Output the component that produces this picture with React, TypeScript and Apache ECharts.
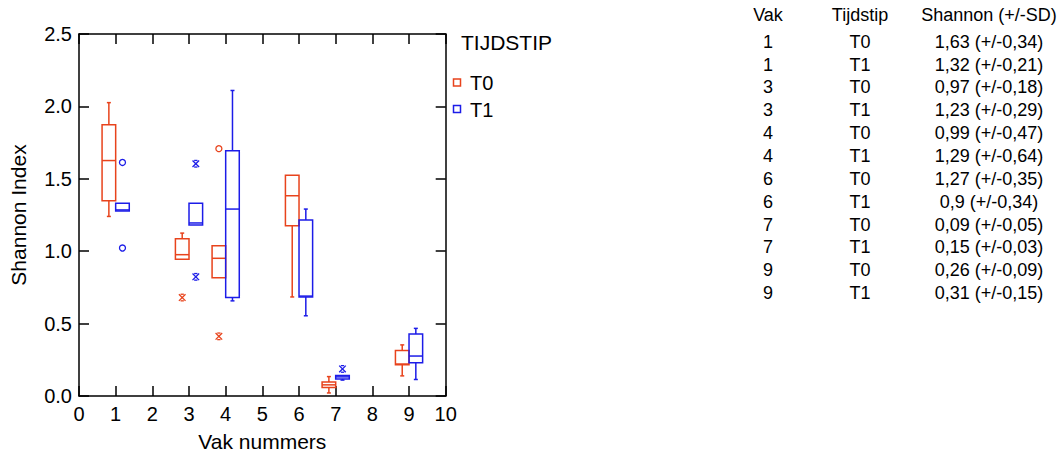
import React, { useEffect, useRef } from "react";
import * as echarts from "echarts";

// ---------- data ----------
const vakken = [1, 3, 4, 6, 7, 9];

const t0Low = [1.24, 0.945, 0.817, 0.684, 0.021, 0.139];
const t0Q1 = [1.348, 0.945, 0.817, 1.175, 0.059, 0.216];
const t0Med = [1.626, 0.976, 0.951, 1.383, 0.077, 0.221];
const t0Q3 = [1.873, 1.086, 1.038, 1.524, 0.096, 0.315];
const t0High = [2.026, 1.125, 1.038, 1.524, 0.134, 0.353];

const t1Low = [1.277, 1.181, 0.657, 0.554, 0.11, 0.114];
const t1Q1 = [1.277, 1.181, 0.68, 0.684, 0.118, 0.23];
const t1Med = [1.285, 1.195, 1.291, 0.69, 0.132, 0.276];
const t1Q3 = [1.332, 1.332, 1.693, 1.216, 0.141, 0.428];
const t1High = [1.332, 1.332, 2.11, 1.291, 0.141, 0.467];

const t0OutVak = [3, 4, 4];
const t0OutVal = [0.68, 1.708, 0.412];
const t0OutShape = ["star", "circle", "star"];

const t1OutVak = [1, 1, 3, 3, 7];
const t1OutVal = [1.613, 1.022, 1.604, 0.823, 0.187];
const t1OutShape = ["circle", "circle", "star", "star", "star"];

const xTicks = [0, 10, 1];
const yTicks = [0, 2.5, 0.5];

const tableHeader = ["Vak", "Tijdstip", "Shannon (+/-SD)"];
const tableVak = ["1", "1", "3", "3", "4", "4", "6", "6", "7", "7", "9", "9"];
const tableTijd = ["T0", "T1", "T0", "T1", "T0", "T1", "T0", "T1", "T0", "T1", "T0", "T1"];
const tableShannon = [
  "1,63 (+/-0,34)",
  "1,32 (+/-0,21)",
  "0,97 (+/-0,18)",
  "1,23 (+/-0,29)",
  "0,99 (+/-0,47)",
  "1,29 (+/-0,64)",
  "1,27 (+/-0,35)",
  "0,9 (+/-0,34)",
  "0,09 (+/-0,05)",
  "0,15 (+/-0,03)",
  "0,26 (+/-0,09)",
  "0,31 (+/-0,15)",
];

const legendTitle = "TIJDSTIP";
const groupNames = ["T0", "T1"];

// ---------- styling ----------
const RED = "#e8431c";
const BLUE = "#1c1ce8";
const FONT = "'Liberation Sans', Arial, Helvetica, sans-serif";
const LW = 1.5;

function boxRenderer(offset: number, color: string) {
  return (params: any, api: any) => {
    const vak = api.value(0);
    const cx = api.coord([vak, 0])[0] + offset;
    const yLow = api.coord([vak, api.value(1)])[1];
    const yQ1 = api.coord([vak, api.value(2)])[1];
    const yMed = api.coord([vak, api.value(3)])[1];
    const yQ3 = api.coord([vak, api.value(4)])[1];
    const yHigh = api.coord([vak, api.value(5)])[1];
    const hw = 6.8;
    const cap = 2;
    const st = { stroke: color, lineWidth: LW, fill: "none" };
    const children: any[] = [
      { type: "rect", shape: { x: cx - hw, y: yQ3, width: hw * 2, height: Math.max(yQ1 - yQ3, 1) }, style: st },
      { type: "line", shape: { x1: cx - hw, y1: yMed, x2: cx + hw, y2: yMed }, style: st },
    ];
    if (yHigh < yQ3 - 0.5) {
      children.push({ type: "line", shape: { x1: cx, y1: yQ3, x2: cx, y2: yHigh }, style: st });
      children.push({ type: "line", shape: { x1: cx - cap, y1: yHigh, x2: cx + cap, y2: yHigh }, style: st });
    }
    if (yLow > yQ1 + 0.5) {
      children.push({ type: "line", shape: { x1: cx, y1: yQ1, x2: cx, y2: yLow }, style: st });
      children.push({ type: "line", shape: { x1: cx - cap, y1: yLow, x2: cx + cap, y2: yLow }, style: st });
    }
    return { type: "group", children };
  };
}

function outlierRenderer(offset: number, color: string, shapes: string[]) {
  return (params: any, api: any) => {
    const p = api.coord([api.value(0), api.value(1)]);
    const cx = p[0] + offset;
    const cy = p[1];
    const shape = shapes[params.dataIndex];
    const st = { stroke: color, lineWidth: 1.3, fill: "none" };
    if (shape === "circle") {
      return { type: "circle", shape: { cx, cy, r: 3 }, style: st };
    }
    const s = 3.3;
    return {
      type: "group",
      children: [
        { type: "line", shape: { x1: cx - s, y1: cy - s, x2: cx + s, y2: cy + s }, style: st },
        { type: "line", shape: { x1: cx - s, y1: cy + s, x2: cx + s, y2: cy - s }, style: st },
        { type: "line", shape: { x1: cx - s * 0.5, y1: cy - s, x2: cx + s * 0.5, y2: cy - s }, style: st },
        { type: "line", shape: { x1: cx - s * 0.5, y1: cy + s, x2: cx + s * 0.5, y2: cy + s }, style: st },
      ],
    };
  };
}

export default function App() {
  const ref = useRef<HTMLDivElement>(null);

  useEffect(() => {
    if (!ref.current) return;
    const chart = echarts.init(ref.current, undefined, { renderer: "svg" });

    const t0Data = vakken.map((v, i) => [v, t0Low[i], t0Q1[i], t0Med[i], t0Q3[i], t0High[i]]);
    const t1Data = vakken.map((v, i) => [v, t1Low[i], t1Q1[i], t1Med[i], t1Q3[i], t1High[i]]);
    const t0Out = t0OutVak.map((v, i) => [v, t0OutVal[i]]);
    const t1Out = t1OutVak.map((v, i) => [v, t1OutVal[i]]);

    const axisLine = { show: true, onZero: false, lineStyle: { color: "#000", width: LW } };
    const axisTick = { show: true, inside: true, length: 10, lineStyle: { color: "#000", width: LW } };

    const graphics: any[] = [];
    // legend
    graphics.push({
      type: "text",
      left: 461,
      top: 32,
      style: { text: legendTitle, font: `21px ${FONT}`, fill: "#000" },
    });
    [RED, BLUE].forEach((c, i) => {
      graphics.push({
        type: "rect",
        shape: { x: 453.5, y: 79 + i * 26.5, width: 7, height: 7 },
        style: { fill: "none", stroke: c, lineWidth: 1.5 },
      });
      graphics.push({
        type: "text",
        x: 470,
        y: 83 + i * 26.5,
        style: { text: groupNames[i], font: `20px ${FONT}`, fill: "#000", textVerticalAlign: "middle" },
      });
    });
    // table
    const colX = [768, 860, 989];
    tableHeader.forEach((h, j) => {
      graphics.push({
        type: "text",
        x: colX[j],
        y: 15,
        style: { text: h, font: `18px ${FONT}`, fill: "#000", textAlign: "center", textVerticalAlign: "middle" },
      });
    });
    tableVak.forEach((_, i) => {
      const y = 41.7 + i * 22.85;
      [tableVak[i], tableTijd[i], tableShannon[i]].forEach((t, j) => {
        graphics.push({
          type: "text",
          x: colX[j],
          y,
          style: { text: t, font: `18px ${FONT}`, fill: "#000", textAlign: "center", textVerticalAlign: "middle" },
        });
      });
    });

    chart.setOption({
      animation: false,
      backgroundColor: "#fff",
      textStyle: { fontFamily: FONT },
      grid: { left: 79, right: 618.3, top: 34, bottom: 55, containLabel: false },
      xAxis: [
        {
          type: "value",
          position: "bottom",
          min: xTicks[0],
          max: xTicks[1],
          interval: xTicks[2],
          axisLine,
          axisTick,
          splitLine: { show: false },
          axisLabel: { color: "#000", fontSize: 20, margin: 8, fontFamily: FONT },
          name: "Vak nummers",
          nameLocation: "middle",
          nameGap: 35,
          nameTextStyle: { color: "#000", fontSize: 21, fontFamily: FONT },
        },
        {
          type: "value",
          position: "top",
          min: xTicks[0],
          max: xTicks[1],
          interval: xTicks[2],
          axisLine,
          axisTick,
          splitLine: { show: false },
          axisLabel: { show: false },
        },
      ],
      yAxis: [
        {
          type: "value",
          position: "left",
          min: yTicks[0],
          max: yTicks[1],
          interval: yTicks[2],
          axisLine,
          axisTick,
          splitLine: { show: false },
          axisLabel: {
            color: "#000",
            fontSize: 20,
            margin: 7,
            fontFamily: FONT,
            formatter: (v: number) => v.toFixed(1),
          },
          name: "Shannon Index",
          nameLocation: "middle",
          nameGap: 50,
          nameTextStyle: { color: "#000", fontSize: 21, fontFamily: FONT },
        },
        {
          type: "value",
          position: "right",
          min: yTicks[0],
          max: yTicks[1],
          interval: yTicks[2],
          axisLine,
          axisTick,
          splitLine: { show: false },
          axisLabel: { show: false },
        },
      ],
      series: [
        {
          type: "custom",
          name: groupNames[0],
          renderItem: boxRenderer(-6.8, RED),
          data: t0Data,
          encode: { x: 0, y: [1, 2, 3, 4, 5] },
          clip: false,
        },
        {
          type: "custom",
          name: groupNames[1],
          renderItem: boxRenderer(6.8, BLUE),
          data: t1Data,
          encode: { x: 0, y: [1, 2, 3, 4, 5] },
          clip: false,
        },
        {
          type: "custom",
          name: groupNames[0] + " outliers",
          renderItem: outlierRenderer(-6.8, RED, t0OutShape),
          data: t0Out,
          encode: { x: 0, y: 1 },
          clip: false,
        },
        {
          type: "custom",
          name: groupNames[1] + " outliers",
          renderItem: outlierRenderer(6.8, BLUE, t1OutShape),
          data: t1Out,
          encode: { x: 0, y: 1 },
          clip: false,
        },
      ],
      graphic: graphics,
    });

    return () => chart.dispose();
  }, []);

  return (
    <div
      ref={ref}
      style={{ position: "fixed", left: 0, top: 0, width: 1064, height: 457, background: "#fff" }}
    />
  );
}
